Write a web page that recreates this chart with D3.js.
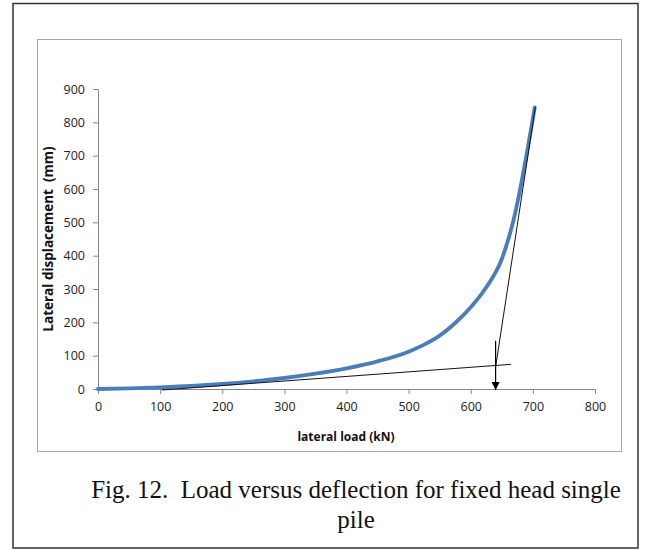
<!DOCTYPE html>
<html>
<head>
<meta charset="utf-8">
<script src="https://cdn.jsdelivr.net/npm/d3@7"></script>
<style>
  html, body { margin: 0; padding: 0; background: #fff; }
  svg { display: block; }
</style>
</head>
<body>
<svg id="fig" width="646" height="550"></svg>
<script>
// Lateral load (kN) vs lateral displacement (mm), fixed-head single pile
const loads         = [0, 50, 100, 150, 200, 250, 300, 350, 400, 450, 500, 525, 550, 575, 600, 625, 650, 668, 703];
const displacements = [0, 2, 5, 9, 15, 23, 33, 46, 62, 83, 112, 133, 160, 198, 245, 305, 390, 500, 845];

// Construction lines: initial tangent, final tangent, and the arrow marking the failure load
const initialTangentLoad = [103, 665];
const initialTangentDisp = [-3, 74];
const finalTangentLoad   = [704, 640];
const finalTangentDisp   = [846, 66];
const arrowLoad          = [640, 640];
const arrowDisp          = [145, -3];

const xTicks = [0, 100, 200, 300, 400, 500, 600, 700, 800];
const yTicks = [0, 100, 200, 300, 400, 500, 600, 700, 800, 900];

const caption = ["Fig. 12.  Load versus deflection for fixed head single", "pile"];

const svg = d3.select("#fig");

// Outer figure frame and inner chart frame
svg.append("rect").attr("x", 13).attr("y", 3.5).attr("width", 625).attr("height", 544.5)
  .attr("fill", "none").attr("stroke", "#333").attr("stroke-width", 1.5);
svg.append("rect").attr("x", 37.5).attr("y", 39.5).attr("width", 584).attr("height", 412)
  .attr("fill", "#fff").attr("stroke", "#a6a6a6").attr("stroke-width", 1);

const x = d3.scaleLinear().domain([0, 800]).range([98, 595]);
const y = d3.scaleLinear().domain([0, 900]).range([389, 89]);

const tickFont = "'Open Sans', sans-serif";

// X axis
const xAxis = svg.append("g").attr("transform", `translate(0,${y(0)})`)
  .call(d3.axisBottom(x).tickValues(xTicks).tickSize(5).tickPadding(8).tickSizeOuter(0));
// Y axis
const yAxis = svg.append("g").attr("transform", `translate(${x(0)},0)`)
  .call(d3.axisLeft(y).tickValues(yTicks).tickSize(5).tickPadding(8).tickSizeOuter(0));

[xAxis, yAxis].forEach(g => {
  g.select(".domain").attr("stroke", "#868686").attr("stroke-width", 1);
  g.selectAll(".tick line").attr("stroke", "#868686");
  g.selectAll(".tick text").attr("fill", "#222").style("font-family", tickFont).style("font-size", "12.5px");
});

// Load-deflection curve
const pts = loads.map((l, i) => [l, displacements[i]]);
const line = d3.line().x(d => x(d[0])).y(d => y(d[1])).curve(d3.curveMonotoneX);
svg.append("path").datum(pts).attr("d", line)
  .attr("fill", "none").attr("stroke", "#4a7ebb").attr("stroke-width", 3.8)
  .attr("stroke-linecap", "round").attr("stroke-linejoin", "round");

// Tangent lines
const straight = d3.line().x(d => x(d[0])).y(d => y(d[1]));
const seg = (ls, ds) => ls.map((l, i) => [l, ds[i]]);
svg.append("path").datum(seg(initialTangentLoad, initialTangentDisp)).attr("d", straight)
  .attr("stroke", "#111").attr("stroke-width", 1).attr("fill", "none");
svg.append("path").datum(seg(finalTangentLoad, finalTangentDisp)).attr("d", straight)
  .attr("stroke", "#111").attr("stroke-width", 1).attr("fill", "none");

// Arrow
svg.append("defs").append("marker")
  .attr("id", "arrowhead").attr("viewBox", "0 0 10 10")
  .attr("refX", 10).attr("refY", 5)
  .attr("markerWidth", 8).attr("markerHeight", 9)
  .attr("markerUnits", "userSpaceOnUse")
  .attr("orient", "auto")
  .append("path").attr("d", "M0,0 L10,5 L0,10 Z").attr("fill", "#000");
svg.append("path").datum(seg(arrowLoad, arrowDisp)).attr("d", straight)
  .attr("stroke", "#000").attr("stroke-width", 1.2).attr("fill", "none")
  .attr("marker-end", "url(#arrowhead)");

// Axis titles
svg.append("text").attr("x", 346).attr("y", 441).attr("text-anchor", "middle")
  .style("font-family", tickFont).style("font-weight", "bold").style("font-size", "12px")
  .attr("fill", "#111").text("lateral load (kN)");
svg.append("text").attr("transform", "translate(53,239) rotate(-90)").attr("text-anchor", "middle")
  .style("font-family", tickFont).style("font-weight", "bold").style("font-size", "13.5px")
  .attr("fill", "#111").style("white-space", "pre")
  .text("Lateral displacement  (mm)");

// Caption
svg.selectAll("text.caption").data(caption).join("text")
  .attr("class", "caption")
  .attr("x", 356).attr("y", (d, i) => 498 + i * 30)
  .attr("text-anchor", "middle")
  .style("font-family", "'Liberation Serif', serif").style("font-size", "25px")
  .style("white-space", "pre").attr("fill", "#111")
  .text(d => d);
</script>
</body>
</html>
